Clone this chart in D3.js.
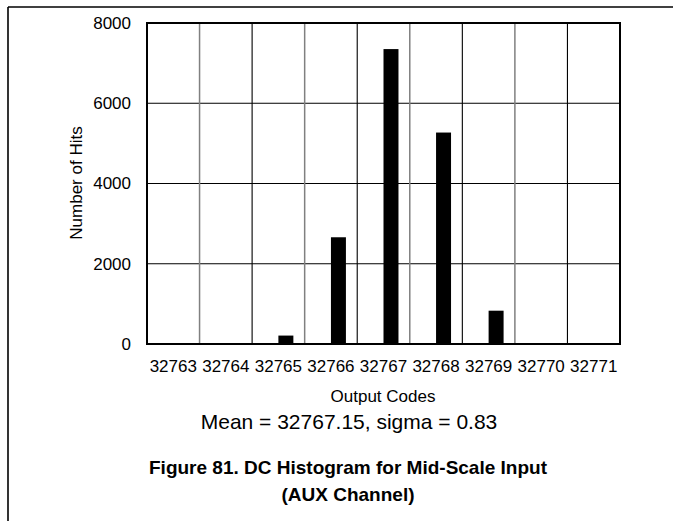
<!DOCTYPE html>
<html>
<head>
<meta charset="utf-8">
<script src="https://cdn.jsdelivr.net/npm/d3@7"></script>
<style>
  html, body { margin: 0; padding: 0; background: #fff; }
  svg { display: block; }
  text { font-family: "Liberation Sans", Arial, sans-serif; fill: #000; }
</style>
</head>
<body>
<svg id="chart" width="673" height="521"></svg>
<script>
const categories = ["32763","32764","32765","32766","32767","32768","32769","32770","32771"];
const hits = [0, 0, 210, 2660, 7350, 5270, 830, 0, 0];
const yTicks = [0, 2000, 4000, 6000, 8000];
const xTitle = "Output Codes";
const yTitle = "Number of Hits";
const statsText = "Mean = 32767.15, sigma = 0.83";
const titleLines = ["Figure 81. DC Histogram for Mid-Scale Input", "(AUX Channel)"];

const svg = d3.select("#chart");
const W = 673, H = 521;
const margin = {left: 147, right: 673 - 620, top: 23, bottom: 521 - 344};
const iw = W - margin.left - margin.right;
const ih = H - margin.top - margin.bottom;

// outer page frame
svg.append("line").attr("x1", 8).attr("y1", 7).attr("x2", W).attr("y2", 7)
  .attr("stroke", "#000").attr("stroke-width", 1.6);
svg.append("line").attr("x1", 8).attr("y1", 7).attr("x2", 8).attr("y2", H)
  .attr("stroke", "#000").attr("stroke-width", 1.6);

const g = svg.append("g").attr("transform", `translate(${margin.left},${margin.top})`);

const x = d3.scaleBand().domain(categories).range([0, iw]).padding(0);
const y = d3.scaleLinear().domain([0, 8000]).range([ih, 0]);

// horizontal gridlines
g.selectAll(".hgrid").data(yTicks.slice(1, -1)).enter().append("line")
  .attr("x1", 0).attr("x2", iw)
  .attr("y1", d => y(d)).attr("y2", d => y(d))
  .attr("stroke", "#000").attr("stroke-width", 1.1);

// vertical gridlines at category boundaries, alternating grey/black
g.selectAll(".vgrid").data(categories.slice(1)).enter().append("line")
  .attr("x1", d => x(d)).attr("x2", d => x(d))
  .attr("y1", 0).attr("y2", ih)
  .attr("stroke", (d, i) => i % 2 === 0 ? "#808080" : "#000")
  .attr("stroke-width", (d, i) => i % 2 === 0 ? 1.5 : 1.1);

// bars
const data = categories.map((c, i) => ({c, v: hits[i]}));
g.selectAll(".bar").data(data.filter(d => d.v > 0)).enter().append("rect")
  .attr("x", d => x(d.c) + x.bandwidth() / 2)
  .attr("width", x.bandwidth() * 0.285)
  .attr("y", d => y(d.v))
  .attr("height", d => ih - y(d.v))
  .attr("fill", "#000");

// plot frame
g.append("rect").attr("x", 0).attr("y", 0).attr("width", iw).attr("height", ih)
  .attr("fill", "none").attr("stroke", "#000").attr("stroke-width", 2);

// axes (labels only)
const yAxis = g.append("g").call(d3.axisLeft(y).tickValues(yTicks).tickSize(0).tickPadding(16).tickFormat(d3.format("d")));
yAxis.select(".domain").remove();
yAxis.selectAll("text").style("font-size", "17px").style("font-family", "Liberation Sans, Arial, sans-serif");

const xAxis = g.append("g").attr("transform", `translate(0,${ih})`)
  .call(d3.axisBottom(x).tickSize(0).tickPadding(16));
xAxis.select(".domain").remove();
xAxis.selectAll("text").style("font-size", "17px").style("font-family", "Liberation Sans, Arial, sans-serif");

// axis titles
svg.append("text").attr("transform", `translate(82,183) rotate(-90)`)
  .attr("text-anchor", "middle").style("font-size", "17px").text(yTitle);
svg.append("text").attr("x", 383).attr("y", 402)
  .attr("text-anchor", "middle").style("font-size", "17px").text(xTitle);

// stats line
svg.append("text").attr("x", 349).attr("y", 429)
  .attr("text-anchor", "middle").style("font-size", "21px").text(statsText);

// figure caption
svg.selectAll(".cap").data(titleLines).enter().append("text")
  .attr("x", 348).attr("y", (d, i) => 474 + i * 27)
  .attr("text-anchor", "middle").style("font-size", "19px").style("font-weight", "bold")
  .text(d => d);
</script>
</body>
</html>
